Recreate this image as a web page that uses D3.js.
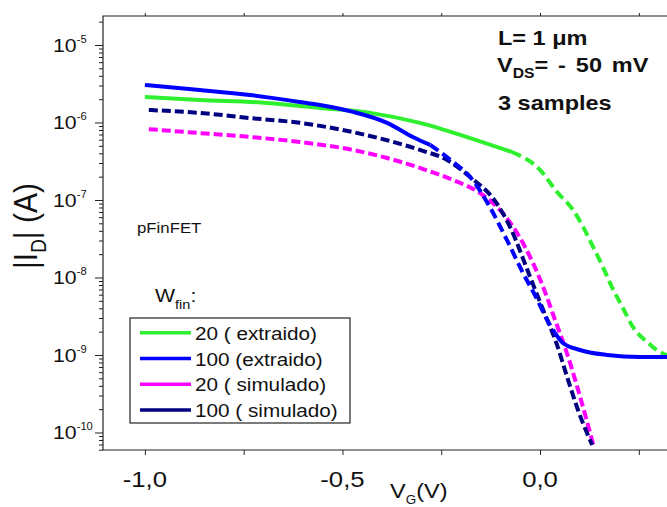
<!DOCTYPE html>
<html>
<head>
<meta charset="utf-8">
<script src="https://cdn.jsdelivr.net/npm/d3@7/dist/d3.min.js"></script>
<style>
  body { margin: 0; background: #fff; }
  svg { display: block; font-family: "Liberation Sans", Arial, sans-serif; }
</style>
</head>
<body>
<div class="chart"></div>
<script>
'use strict';

// gate voltage (V) and |Id| (A)
var ext20V = [-1.0, -0.861, -0.691, -0.557, -0.43, -0.304, -0.177, -0.071, 0.0, 0.043, 0.084,
              0.109, 0.134, 0.159, 0.182, 0.208, 0.235, 0.271, 0.304, 0.322, 0.36];
var ext20I = [2.13e-6, 1.95e-6, 1.79e-6, 1.54e-6, 1.33e-6, 9.9e-7, 6.3e-7, 4.16e-7, 2.44e-7, 1.27e-7, 7.4e-8,
              4.5e-8, 2.5e-8, 1.37e-8, 7.5e-9, 4.2e-9, 2.3e-9, 1.47e-9, 1.09e-9, 1.0e-9, 9.6e-10];
var ext100V = [-1.0, -0.861, -0.734, -0.608, -0.557, -0.473, -0.387, -0.322, -0.278, -0.22, -0.177,
               -0.127, -0.084, -0.043, -0.008, 0.018, 0.038, 0.058, 0.101, 0.17, 0.253, 0.322, 0.405];
var ext100I = [3.05e-6, 2.63e-6, 2.26e-6, 1.84e-6, 1.68e-6, 1.37e-6, 9.9e-7, 6.5e-7, 5.13e-7, 3.09e-7, 1.98e-7,
               8.1e-8, 3.05e-8, 1.14e-8, 5.3e-9, 2.83e-9, 1.92e-9, 1.43e-9, 1.16e-9, 1.0e-9, 9.4e-10, 9.4e-10, 9.4e-10];
var sim20V = [-0.99, -0.861, -0.734, -0.608, -0.473, -0.387, -0.304, -0.22, -0.152, -0.101, -0.058,
              -0.018, 0.008, 0.038, 0.068, 0.094, 0.137];
var sim20I = [8.2e-7, 7.3e-7, 6.5e-7, 5.6e-7, 4.42e-7, 3.48e-7, 2.59e-7, 1.81e-7, 1.23e-7, 7.4e-8, 3.75e-8,
              1.54e-8, 7.5e-9, 2.83e-9, 1.06e-9, 3.9e-10, 6.3e-11];
var sim100V = [-0.99, -0.861, -0.734, -0.608, -0.473, -0.387, -0.304, -0.235, -0.177, -0.11,
               -0.076, -0.025, 0.008, 0.043, 0.071, 0.096, 0.132];
var sim100I = [1.45e-6, 1.33e-6, 1.14e-6, 9.9e-7, 7.5e-7, 5.9e-7, 4.42e-7, 3.28e-7, 1.98e-7, 9.1e-8,
               4.5e-8, 1.01e-8, 3.8e-9, 1.35e-9, 4.75e-10, 1.95e-10, 6.9e-11];
// parts of the extracted curves where the points are spaced out (drawn dashed)
var ext20Sparse = [-0.071, 1];
var ext100Sparse = [-0.278, 0.038];

var seriesNames = ["20 ( extraido)", "100 (extraido)", "20 ( simulado)", "100 ( simulado)"];
var seriesColors = ["#2ef02e", "#0000ff", "#ff00ff", "#000080"];
var xTickValues = [-1, -0.75, -0.5, -0.25, 0, 0.25];
var xTickLabels = [-1, -0.5, 0];
var yDecades = [-10, -9, -8, -7, -6, -5];

var width = 667, height = 507;
var stretch = 1.12;

var svg = d3.select(".chart").append("svg")
    .attr("width", width)
    .attr("height", height);

var x = d3.scaleLinear().domain([-1.106, 0.42]).range([103, 706]);
var y = d3.scaleLog().domain([Math.pow(10, -10.226), Math.pow(10, -4.626)]).range([450, 16]);

var fmt = d3.formatLocale({decimal: ",", thousands: ".", grouping: [3], currency: ["", ""], minus: "-"}).format(".1f");

svg.append("clipPath").attr("id", "plot")
  .append("rect").attr("x", 103).attr("y", 16).attr("width", 620).attr("height", 434);

// text with the slight horizontal stretch of the original picture
function label(parent, px, py, anchor, size, weight) {
  return parent.append("text")
      .attr("transform", "translate(" + px + "," + py + ") scale(" + stretch + ",1)")
      .attr("text-anchor", anchor || "start")
      .attr("font-size", size)
      .attr("font-weight", weight || "normal")
      .attr("fill", "#111");
}

// axes
var minor = [];
for (var d = -11; d <= -4; d++) {
  for (var k = 2; k <= 9; k++) {
    var v = k * Math.pow(10, d);
    if (v > y.domain()[0] && v < y.domain()[1]) minor.push(v);
  }
}
svg.append("g")
    .attr("transform", "translate(103,0)")
    .call(d3.axisLeft(y).tickValues(minor).tickSize(4).tickSizeOuter(0).tickFormat(""))
    .call(function (g) { g.select(".domain").remove(); });
svg.append("g")
    .attr("transform", "translate(103,0)")
    .call(d3.axisLeft(y).tickValues(yDecades.map(function (e) { return Math.pow(10, e); }))
      .tickSize(8).tickSizeOuter(0).tickFormat(""))
    .call(function (g) { g.select(".domain").remove(); });
svg.append("g")
    .attr("transform", "translate(0,450)")
    .call(d3.axisBottom(x).tickValues(xTickValues).tickSize(5).tickSizeOuter(0).tickFormat(""))
    .call(function (g) { g.select(".domain").remove(); });
svg.append("g")
    .attr("transform", "translate(0,16)")
    .call(d3.axisTop(x).tickValues(xTickValues).tickSize(3).tickSizeOuter(0).tickFormat(""))
    .call(function (g) { g.select(".domain").remove(); });
svg.selectAll(".tick line").attr("stroke", "#222");

svg.append("path")
    .attr("d", "M" + (width + 5) + ",16H103V450H" + (width + 5))
    .attr("fill", "none")
    .attr("stroke", "#222")
    .attr("stroke-width", 1.2);

yDecades.forEach(function (e) {
  var t = label(svg, 53, y(Math.pow(10, e)) + 7, "start", 19);
  t.append("tspan").text("10");
  t.append("tspan").attr("dy", -9).attr("font-size", 10).text(String(e));
});
xTickLabels.forEach(function (v) {
  label(svg, x(v), 487, "middle", 23).text(fmt(v));
});

var xt = label(svg, 390, 498, "start", 21);
xt.append("tspan").text("V");
xt.append("tspan").attr("dy", 6).attr("font-size", 12).text("G");
xt.append("tspan").attr("dy", -6).text("(V)");

var yt = svg.append("text")
    .attr("transform", "translate(37,226) rotate(-90) scale(1," + stretch + ")")
    .attr("text-anchor", "middle")
    .attr("font-size", 30)
    .attr("fill", "#111");
yt.append("tspan").text("|I");
yt.append("tspan").attr("dy", 8).attr("font-size", 19).text("D");
yt.append("tspan").attr("dy", -8).text("| (A)");

// curves
var line = d3.line()
    .x(function (p) { return x(p[0]); })
    .y(function (p) { return y(p[1]); })
    .curve(d3.curveMonotoneX);

var plot = svg.append("g").attr("clip-path", "url(#plot)");

function pairs(vs, is) {
  return vs.map(function (v, i) { return [v, is[i]]; });
}

function drawExtracted(vs, is, sparse, color) {
  var pts = pairs(vs, is);
  var before = pts.filter(function (p) { return p[0] <= sparse[0]; });
  var mid = pts.filter(function (p) { return p[0] >= sparse[0] && p[0] <= sparse[1]; });
  var after = pts.filter(function (p) { return p[0] >= sparse[1]; });
  [before, mid, after].forEach(function (part, i) {
    if (part.length < 2) return;
    plot.append("path")
        .datum(part)
        .attr("d", line)
        .attr("fill", "none")
        .attr("stroke", color)
        .attr("stroke-width", 4)
        .attr("stroke-dasharray", i === 1 ? "10,5" : null);
  });
}

function drawSimulated(vs, is, color) {
  plot.append("path")
      .datum(pairs(vs, is))
      .attr("d", line)
      .attr("fill", "none")
      .attr("stroke", color)
      .attr("stroke-width", 4)
      .attr("stroke-dasharray", "9,4");
}

drawSimulated(sim20V, sim20I, seriesColors[2]);
drawSimulated(sim100V, sim100I, seriesColors[3]);
drawExtracted(ext20V, ext20I, ext20Sparse, seriesColors[0]);
drawExtracted(ext100V, ext100I, ext100Sparse, seriesColors[1]);

// annotations
label(svg, 498, 45, "start", 21, "bold").text("L= 1 \u03bcm");
var vds = label(svg, 497, 72, "start", 21, "bold").attr("word-spacing", 3);
vds.append("tspan").text("V");
vds.append("tspan").attr("dy", 6).attr("font-size", 14).text("DS");
vds.append("tspan").attr("dy", -6).text("= - 50 mV");
label(svg, 498, 110, "start", 21, "bold").text("3 samples");
label(svg, 137, 233, "start", 15).text("pFinFET");

var wf = label(svg, 155, 302, "start", 19);
wf.append("tspan").text("W");
wf.append("tspan").attr("dy", 7).attr("font-size", 13).text("fin");
wf.append("tspan").attr("dy", -7).text(":");

// legend
var legend = svg.append("g");
legend.append("rect")
    .attr("x", 130).attr("y", 318)
    .attr("width", 220).attr("height", 105)
    .attr("fill", "#fff")
    .attr("stroke", "#222")
    .attr("stroke-width", 1.2);
seriesNames.forEach(function (name, i) {
  var ly = 332.7 + i * 25.8;
  legend.append("line")
      .attr("x1", 140).attr("x2", 191)
      .attr("y1", ly).attr("y2", ly)
      .attr("stroke", seriesColors[i])
      .attr("stroke-width", 3.5);
  label(legend, 195, ly + 7, "start", 18.5).text(name);
});
</script>
</body>
</html>
